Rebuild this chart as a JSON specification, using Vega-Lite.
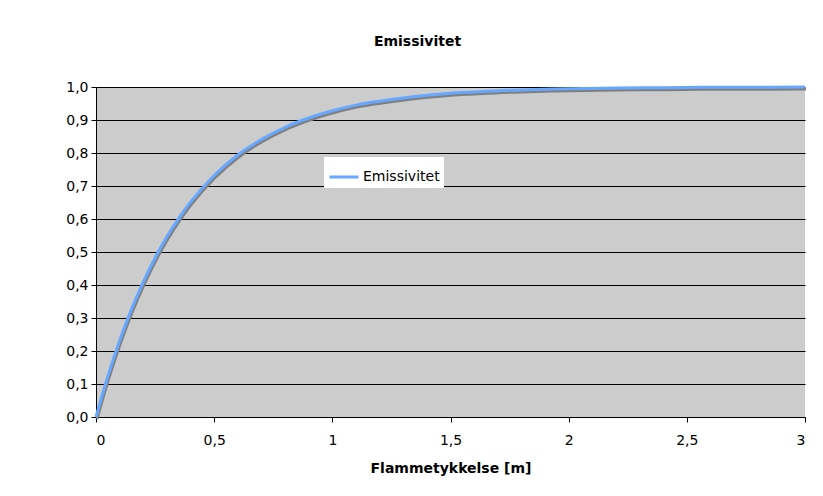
{
  "$schema": "https://vega.github.io/schema/vega-lite/v6.json",
  "width": 709,
  "height": 330,
  "autosize": {"type": "none"},
  "padding": {"left": 96, "top": 87, "right": 18, "bottom": 79},
  "background": "#FFFFFF",
  "title": {
    "text": "Emissivitet",
    "font": "DejaVu Sans",
    "fontSize": 14,
    "fontWeight": "bold",
    "color": "#000000",
    "anchor": "middle",
    "dx": -33,
    "offset": 31
  },
  "config": {
    "locale": {
      "number": {"decimal": ",", "thousands": " ", "grouping": [3], "currency": ["", " kr"]}
    },
    "view": {"fill": "#CCCCCC", "stroke": null},
    "axis": {
      "labelFont": "DejaVu Sans",
      "labelFontSize": 14,
      "labelColor": "#000000",
      "titleFont": "DejaVu Sans",
      "titleFontSize": 14,
      "titleFontWeight": "bold",
      "titleColor": "#000000",
      "domainColor": "#000000",
      "tickColor": "#000000",
      "domainWidth": 1,
      "tickSize": 5
    }
  },
  "data": {
    "values": [
      {"L": 0.0, "e": 0.0},
      {"L": 0.05, "e": 0.123},
      {"L": 0.1, "e": 0.231},
      {"L": 0.15, "e": 0.326},
      {"L": 0.2, "e": 0.409},
      {"L": 0.25, "e": 0.482},
      {"L": 0.3, "e": 0.546},
      {"L": 0.35, "e": 0.602},
      {"L": 0.4, "e": 0.651},
      {"L": 0.5, "e": 0.732},
      {"L": 0.6, "e": 0.794},
      {"L": 0.7, "e": 0.841},
      {"L": 0.8, "e": 0.878},
      {"L": 0.9, "e": 0.906},
      {"L": 1.0, "e": 0.928},
      {"L": 1.1, "e": 0.945},
      {"L": 1.2, "e": 0.957},
      {"L": 1.3, "e": 0.967},
      {"L": 1.4, "e": 0.975},
      {"L": 1.5, "e": 0.981},
      {"L": 1.6, "e": 0.985},
      {"L": 1.7, "e": 0.989},
      {"L": 1.8, "e": 0.991},
      {"L": 1.9, "e": 0.993},
      {"L": 2.0, "e": 0.995},
      {"L": 2.2, "e": 0.997},
      {"L": 2.4, "e": 0.998},
      {"L": 2.6, "e": 0.999},
      {"L": 2.8, "e": 0.999},
      {"L": 3.0, "e": 1.0}
    ]
  },
  "encoding": {
    "x": {
      "field": "L",
      "type": "quantitative",
      "scale": {"domain": [0, 3], "nice": false, "zero": true},
      "axis": {
        "title": "Flammetykkelse [m]",
        "values": [0, 0.5, 1, 1.5, 2, 2.5, 3],
        "format": "~g",
        "grid": false,
        "labelPadding": 11,
        "titleY": 44
      }
    },
    "y": {
      "field": "e",
      "type": "quantitative",
      "scale": {"domain": [0, 1], "nice": false},
      "axis": {
        "title": null,
        "values": [0, 0.1, 0.2, 0.3, 0.4, 0.5, 0.6, 0.7, 0.8, 0.9, 1.0],
        "format": ".1f",
        "grid": true,
        "gridColor": "#000000",
        "gridOpacity": 1,
        "gridWidth": 1,
        "labelPadding": 3
      }
    }
  },
  "layer": [
    {
      "mark": {
        "type": "line",
        "interpolate": "monotone",
        "stroke": "#808080",
        "strokeWidth": 3,
        "xOffset": 1,
        "yOffset": 2
      }
    },
    {
      "mark": {
        "type": "line",
        "interpolate": "monotone",
        "strokeWidth": 3
      },
      "encoding": {
        "color": {
          "datum": "Emissivitet",
          "scale": {"range": ["#66A8FF"]},
          "legend": {
            "title": null,
            "orient": "none",
            "legendX": 228,
            "legendY": 70,
            "fillColor": "#FFFFFF",
            "padding": 4,
            "symbolType": "stroke",
            "symbolSize": 841,
            "symbolStrokeWidth": 3,
            "labelFont": "DejaVu Sans",
            "labelFontSize": 14,
            "labelColor": "#000000",
            "labelOffset": 3
          }
        }
      }
    }
  ]
}
